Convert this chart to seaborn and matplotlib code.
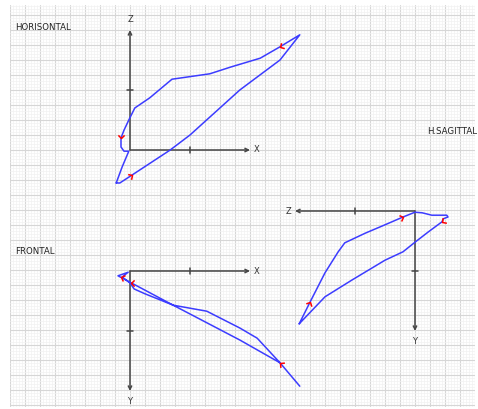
import numpy as np
import matplotlib
matplotlib.use('Agg')
import matplotlib.pyplot as plt
from matplotlib.markers import MarkerStyle
from matplotlib.path import Path
from matplotlib.transforms import Affine2D
import seaborn as sns

# loop traces in local units (1 unit = one tick on the axes)
horiz_x = [-0.23, -0.13, -0.02, -0.10, -0.15, -0.15, -0.10, -0.02, 0.08, 0.33, 0.70, 1.33,
           1.67, 2.17, 2.50, 2.83, 2.50, 1.83, 1.00, 0.67, 0.03, -0.17, -0.23]
horiz_z = [-0.55, -0.28, -0.02, -0.02, 0.05, 0.20, 0.33, 0.50, 0.70, 0.87, 1.18, 1.27,
           1.38, 1.53, 1.72, 1.92, 1.50, 1.00, 0.25, 0.00, -0.42, -0.55, -0.55]

front_x = [2.83, 2.50, 1.83, 0.72, -0.20, -0.03, -0.13, 0.00, 0.07, 0.25, 0.72, 1.28,
           1.83, 2.12, 2.50]
front_y = [1.92, 1.53, 1.15, 0.57, 0.08, 0.02, 0.10, 0.20, 0.30, 0.38, 0.57, 0.67,
           0.95, 1.12, 1.53]

sag_z = [1.93, 1.75, 1.50, 1.28, 1.17, 0.83, 0.50, 0.20, 0.00, -0.12, -0.28, -0.53,
         -0.55, -0.47, -0.45, -0.22, 0.00, 0.20, 0.50, 1.05, 1.50, 1.93]
sag_y = [1.88, 1.52, 1.03, 0.68, 0.53, 0.37, 0.23, 0.10, 0.02, 0.03, 0.07, 0.07,
         0.10, 0.13, 0.18, 0.35, 0.52, 0.68, 0.82, 1.15, 1.43, 1.88]

# direction markers (position, heading in degrees)
horiz_mark_x = [-0.15, 2.50, 0.03]
horiz_mark_z = [0.20, 1.72, -0.42]
horiz_mark_ang = [270, 210, 33]

front_mark_x = [-0.15, 0.02, 2.50]
front_mark_y = [0.10, 0.20, 1.53]
front_mark_ang = [160, 180, 140]

sag_mark_z = [1.75, 0.20, -0.45]
sag_mark_y = [1.52, 0.10, 0.18]
sag_mark_ang = [63, 20, 215]

AXIS_LEN = 2
TICK = 1
UNIT = 60  # px per unit

W, H = 478, 409
sns.set_style('white')
fig = plt.figure(figsize=(W / 100, H / 100), dpi=100)
ax = fig.add_axes([10 / W, (H - 407) / H, 465 / W, 402 / H])
ax.set_xticks(np.arange(10, 476, 15))
ax.set_yticks(np.arange(15, 406, 15))
ax.set_xticks(np.arange(10, 476, 3), minor=True)
ax.set_yticks(np.arange(6, 407, 3), minor=True)
ax.tick_params(which='both', length=0, labelbottom=False, labelleft=False)
ax.grid(which='minor', color='#f2f2f2', lw=0.5)
ax.grid(which='major', color='#d6d6d6', lw=0.8)
for s in ax.spines.values():
    s.set_visible(False)
ax.set_axisbelow(True)

panels = {
    # origin px, direction of first axis, direction of second axis
    'horiz': dict(o=(130, 150), a=(1, 0), b=(0, -1), la='X', lb='Z'),
    'front': dict(o=(130, 271), a=(1, 0), b=(0, 1), la='X', lb='Y'),
    'sag': dict(o=(415, 211), a=(-1, 0), b=(0, 1), la='Z', lb='Y'),
}


def to_px(p, u, v):
    u = np.asarray(u)
    v = np.asarray(v)
    ox, oy = p['o']
    return (ox + UNIT * (u * p['a'][0] + v * p['b'][0]),
            oy + UNIT * (u * p['a'][1] + v * p['b'][1]))


def draw_axes(p):
    ox, oy = p['o']
    for d, lab in [(p['a'], p['la']), (p['b'], p['lb'])]:
        end = (ox + d[0] * UNIT * AXIS_LEN, oy + d[1] * UNIT * AXIS_LEN)
        ax.annotate('', xy=end, xytext=(ox, oy),
                    arrowprops=dict(arrowstyle='->', color='#444444', lw=1.1,
                                    shrinkA=0, shrinkB=0, mutation_scale=6))
        tx, ty = ox + d[0] * UNIT * TICK, oy + d[1] * UNIT * TICK
        ax.plot([tx - d[1] * 3, tx + d[1] * 3], [ty - d[0] * 3, ty + d[0] * 3],
                color='#444444', lw=1.1)
        ax.text(end[0] + d[0] * 7, end[1] + d[1] * 10, lab, fontsize=6,
                color='#333333', ha='center', va='center')


chevron = Path([(-1, 1), (0, 0), (-1, -1)])


def draw_marks(p, u, v, angles):
    px, py = to_px(p, u, v)
    for x, y, a in zip(px, py, angles):
        m = MarkerStyle(chevron, fillstyle='none',
                        transform=Affine2D().rotate_deg(a))
        ax.plot(x, y, marker=m, color='#ff0000', markersize=4.5, mew=1.1,
                ls='none', zorder=5)


for key, (u, v, mu, mv, ma) in {
    'horiz': (horiz_x, horiz_z, horiz_mark_x, horiz_mark_z, horiz_mark_ang),
    'front': (front_x, front_y, front_mark_x, front_mark_y, front_mark_ang),
    'sag': (sag_z, sag_y, sag_mark_z, sag_mark_y, sag_mark_ang),
}.items():
    p = panels[key]
    draw_axes(p)
    px, py = to_px(p, u, v)
    sns.lineplot(x=px, y=py, sort=False, estimator=None, ax=ax,
                 color='#3c3cff', lw=1.1, zorder=4)
    draw_marks(p, mu, mv, ma)

ax.set_xlim(10, 475)
ax.set_ylim(407, 5)

title_kw = dict(fontsize=6.2, color='#222222', va='center')
ax.text(15, 27, 'HORISONTAL', ha='left', **title_kw)
ax.text(15, 252, 'FRONTAL', ha='left', **title_kw)
ax.text(477, 132, 'H.SAGITTAL', ha='right', **title_kw)

fig.savefig('out.png', dpi=100)
